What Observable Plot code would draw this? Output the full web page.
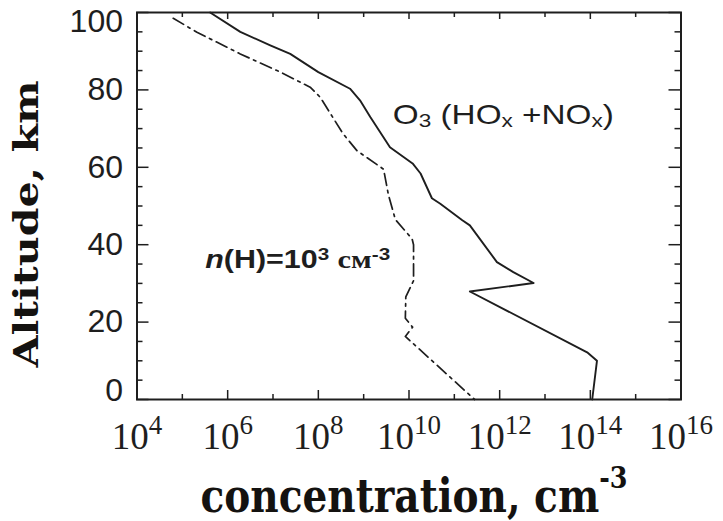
<!DOCTYPE html>
<html>
<head>
<meta charset="utf-8">
<script src="https://cdn.jsdelivr.net/npm/d3@7"></script>
<script src="https://cdn.jsdelivr.net/npm/@observablehq/plot@0.6"></script>
<style>
  html, body { margin: 0; padding: 0; background: #fff; }
  #chart svg { display: block; }
</style>
</head>
<body>
<div id="chart"></div>
<script>
// Ozone profile (HOx + NOx chemistry): altitude (km) and concentration (cm^-3)
const ozoneAltitude = [100, 95, 91.5, 89.3, 84.6, 80.3, 77.3, 73, 65.2, 61, 58.4, 52, 50.6, 46.3, 45, 35.5, 32.9, 30.1, 27.9, 12.2, 10, 0];
const ozoneConcentration = [4.1e5, 1.9e6, 8.7e6, 2.4e7, 1.0e8, 5.0e8, 8.3e8, 1.4e9, 3.8e9, 1.2e10, 1.8e10, 3.2e10, 4.9e10, 1.5e11, 2.2e11, 8.7e11, 2.0e12, 5.6e12, 2.2e11, 8.5e13, 1.4e14, 1.1e14];

// Profile for n(H) = 10^3 cm^-3
const hydrogenAltitude = [98.5, 94.9, 89.3, 84.6, 80.7, 78.1, 68.7, 64.3, 59.5, 53, 46.5, 41.5, 40, 30.7, 26.5, 21, 18.7, 16.3, 0];
const hydrogenConcentration = [6.3e4, 2.1e5, 1.9e6, 1.45e7, 6.6e7, 1.1e8, 3.5e8, 7.1e8, 2.75e9, 3.5e9, 5.0e9, 1.17e10, 1.26e10, 1.26e10, 8.5e9, 8.3e9, 1.2e10, 8.3e9, 2.8e11];

// Axis ticks
const xTickPowers = [4, 6, 8, 10, 12, 14, 16];
const xMinorPowers = [5, 7, 9, 11, 13, 15];
const yTicks = [0, 20, 40, 60, 80, 100];
const yMinorTicks = [5, 10, 15, 25, 30, 35, 45, 50, 55, 65, 70, 75, 85, 90, 95];

// Texts (markup: ^{..} superscript, _{..} subscript, *..* italic, ~..~ serif)
const xTitle = "concentration, cm^{-3}";
const yTitle = "Altitude, km";
const ozoneLabel = "O_{3} (HO_{x} +NO_{x})";
const hydrogenLabel = "*n*(H)=10^{3} ~см~^{-3}";
const ozoneLabelAt = {c: 4.4e9, alt: 71.3};
const hydrogenLabelAt = {c: 3.2e5, alt: 34.1};

const ozone = ozoneConcentration.map((c, i) => ({c, alt: ozoneAltitude[i]}));
const hydrogen = hydrogenConcentration.map((c, i) => ({c, alt: hydrogenAltitude[i]}));

const W = 723, H = 521;
const margin = {left: 136.5, right: 42.5, top: 12, bottom: 122};
const plotW = W - margin.left - margin.right;
const plotH = H - margin.top - margin.bottom;
const ink = "#1e1e1e";

const tickStyle = {stroke: ink, strokeWidth: 1.5};

const chart = Plot.plot({
  width: W,
  height: H,
  marginLeft: margin.left,
  marginRight: margin.right,
  marginTop: margin.top,
  marginBottom: margin.bottom,
  style: {background: "#fff", overflow: "visible"},
  x: {type: "log", domain: [1e4, 1e16], axis: null},
  y: {domain: [0, 100], axis: null},
  marks: [
    // inward ticks on all four sides
    Plot.tickX(xTickPowers.map(p => 10 ** p), {x: d => d, insetTop: plotH - 9, ...tickStyle}),
    Plot.tickX(xMinorPowers.map(p => 10 ** p), {x: d => d, insetTop: plotH - 5, ...tickStyle}),
    Plot.tickX(xTickPowers.map(p => 10 ** p), {x: d => d, insetBottom: plotH - 7, ...tickStyle}),
    Plot.tickX(xMinorPowers.map(p => 10 ** p), {x: d => d, insetBottom: plotH - 5, ...tickStyle}),
    Plot.tickY(yTicks, {y: d => d, insetRight: plotW - 12, ...tickStyle}),
    Plot.tickY(yMinorTicks, {y: d => d, insetRight: plotW - 6, ...tickStyle}),
    Plot.tickY(yTicks, {y: d => d, insetLeft: plotW - 12, ...tickStyle}),
    Plot.tickY(yMinorTicks, {y: d => d, insetLeft: plotW - 6, ...tickStyle}),
    Plot.frame({stroke: ink, strokeWidth: 2}),

    // profiles
    Plot.line(ozone, {x: "c", y: "alt", stroke: ink, strokeWidth: 1.9}),
    Plot.line(hydrogen, {x: "c", y: "alt", stroke: ink, strokeWidth: 1.7, strokeDasharray: "12,5,2.5,5"}),

    // tick labels
    Plot.text(xTickPowers, {
      x: d => 10 ** d, text: d => `10^{${d}}`, frameAnchor: "bottom", lineAnchor: "bottom", dy: 49,
      fontFamily: "Liberation Serif", fontSize: 37, fill: ink, ariaDescription: "x tick labels"
    }),
    Plot.text(yTicks, {
      y: d => d, text: d => String(d), frameAnchor: "left", textAnchor: "end", lineAnchor: "middle", dx: -14,
      fontFamily: "Liberation Sans", fontSize: 32, fill: ink, ariaDescription: "y tick labels"
    }),

    // axis titles
    Plot.text([xTitle], {
      text: d => d, frameAnchor: "bottom", lineAnchor: "bottom", dy: 112, dx: 5,
      fontFamily: "DejaVu Serif", fontWeight: "bold", fontSize: 46, fill: "#141210", ariaDescription: "x title"
    }),
    Plot.text([yTitle], {
      text: d => d, frameAnchor: "left", lineAnchor: "bottom", textAnchor: "middle", rotate: -90, dx: -99, dy: 18,
      fontFamily: "DejaVu Serif", fontWeight: "bold", fontSize: 33, fill: "#141210", ariaDescription: "y title"
    }),

    // curve labels
    Plot.text([ozoneLabelAt], {
      x: "c", y: "alt", text: () => ozoneLabel, textAnchor: "start", lineAnchor: "bottom",
      fontFamily: "Liberation Sans", fontSize: 28, fill: ink, ariaDescription: "ozone label"
    }),
    Plot.text([hydrogenLabelAt], {
      x: "c", y: "alt", text: () => hydrogenLabel, textAnchor: "start", lineAnchor: "bottom",
      fontFamily: "Liberation Sans", fontWeight: "bold", fontSize: 25, fill: ink, ariaDescription: "hydrogen label"
    })
  ]
});

document.getElementById("chart").appendChild(chart);

// Rich text: superscripts, subscripts, italic and serif runs, and fitted widths
const textStyles = {
  "x tick labels": {sup: {size: 27, shift: 15}},
  "ozone label": {sub: {size: 19, shift: -3}, length: 221},
  "hydrogen label": {sup: {size: 17, shift: 8}, serif: "Liberation Serif", length: 185},
  "x title": {sup: {size: 30, shift: 24}, length: 427},
  "y title": {length: 287}
};
const svgNS = "http://www.w3.org/2000/svg";
const svg = chart.tagName === "svg" ? chart : chart.querySelector("svg");

for (const [desc, st] of Object.entries(textStyles)) {
  const g = svg.querySelector(`g[aria-description="${desc}"]`);
  if (!g) continue;
  g.querySelectorAll("text").forEach(t => {
    const s = t.textContent;
    const re = /\^\{([^}]*)\}|_\{([^}]*)\}|\*([^*]*)\*|~([^~]*)~|([^^_*~]+)/g;
    let m, offset = 0;
    t.textContent = "";
    while ((m = re.exec(s))) {
      const ts = document.createElementNS(svgNS, "tspan");
      let target = 0;
      if (m[1] != null) {
        ts.textContent = m[1];
        ts.setAttribute("font-size", st.sup.size);
        target = -st.sup.shift;
      } else if (m[2] != null) {
        ts.textContent = m[2];
        ts.setAttribute("font-size", st.sub.size);
        target = -st.sub.shift;
      } else if (m[3] != null) {
        ts.textContent = m[3];
        ts.setAttribute("font-style", "italic");
      } else if (m[4] != null) {
        ts.textContent = m[4];
        ts.setAttribute("font-family", st.serif);
      } else {
        ts.textContent = m[5];
      }
      if (target !== offset) ts.setAttribute("dy", target - offset);
      offset = target;
      t.appendChild(ts);
    }
    if (st.length) {
      t.setAttribute("textLength", st.length);
      t.setAttribute("lengthAdjust", "spacingAndGlyphs");
    }
  });
}

// keep the end labels of the altitude axis inside the frame
{
  const g = svg.querySelector('g[aria-description="y tick labels"]');
  const box = svg.getBoundingClientRect();
  const top = margin.top - 2, bottom = H - margin.bottom + 2;
  g.querySelectorAll("text").forEach(t => {
    const r = t.getBoundingClientRect();
    const c = (r.top + r.bottom) / 2 - box.top;
    const half = 0.358 * 32;
    let shift = 0;
    if (c - half < top) shift = top - (c - half);
    if (c + half > bottom) shift = bottom - (c + half);
    if (shift) t.setAttribute("transform", (t.getAttribute("transform") || "") + ` translate(0,${shift})`);
  });
}
</script>
</body>
</html>
